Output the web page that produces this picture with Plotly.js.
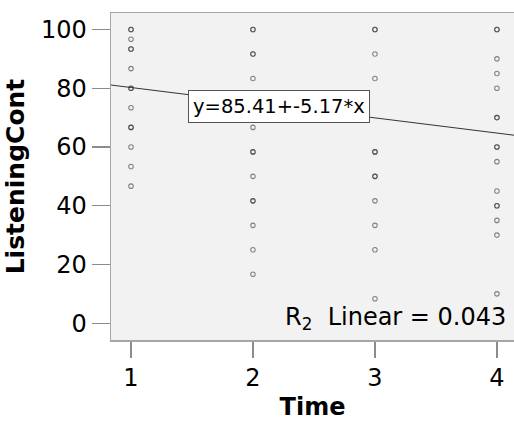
<!DOCTYPE html>
<html><head><meta charset="utf-8">
<script src="https://cdn.plot.ly/plotly-3.0.1.min.js"></script>
<style>body{margin:0;padding:0;background:#fff}</style>
</head><body><div id="chart" style="width:514px;height:421px"></div>
<script>
// Observations per Time group (duplicates = overlapping observations, darker markers)
const time1 = [100,100,96.67,93.33,93.33,86.67,80,80,73.33,66.67,66.67,60,53.33,46.67];
const time2 = [100,100,91.67,91.67,83.33,75,66.67,58.33,58.33,50,41.67,41.67,33.33,25,16.67];
const time3 = [100,100,91.67,83.33,58.33,58.33,50,50,41.67,33.33,25,8.33];
const time4 = [100,100,90,85,80,70,70,60,60,55,45,40,40,35,30,10];
const fitIntercept = 85.41;
const fitSlope = -5.17;
const rSquared = 0.043;
const xTicks = [1,2,3,4];
const yTicks = [0,20,40,60,80,100];
const xRange = [0.836, 4.14];
const yRange = [-5.7, 105.6];

const xs = [], ys = [];
[time1,time2,time3,time4].forEach((arr,i)=>{arr.forEach(v=>{xs.push(i+1); ys.push(v);});});

const font = "DejaVu Sans, Verdana, sans-serif";
const traces = [
  {x: xs, y: ys, type:'scatter', mode:'markers', hoverinfo:'none',
   marker:{symbol:'circle-open', size:4.5, color:'rgba(40,40,40,0.55)', line:{width:1.1}}},
  {x: xRange, y: xRange.map(v=>fitIntercept + fitSlope*v), type:'scatter', mode:'lines',
   line:{color:'#333', width:1}, hoverinfo:'none'}
];
const layout = {
  width:514, height:421, showlegend:false,
  margin:{l:111, r:0, t:13, b:81},
  paper_bgcolor:'#fff', plot_bgcolor:'#f2f2f2',
  font:{family:font, color:'#000'},
  xaxis:{range:xRange, tickvals:xTicks, ticktext:xTicks.map(String), showgrid:false, zeroline:false,
    showline:true, mirror:true, linecolor:'#a6a6a6', linewidth:1.5,
    ticks:'outside', ticklen:16, tickcolor:'#8c8c8c', tickwidth:1.2,
    tickfont:{size:24, family:font},
    title:{text:'<b>Time</b>', font:{size:24, family:font}, standoff:12}},
  yaxis:{range:yRange, tickvals:yTicks, ticktext:yTicks.map(String), showgrid:false, zeroline:false,
    showline:true, linecolor:'#a6a6a6', linewidth:1.5,
    ticks:'outside', ticklen:18, tickcolor:'#8c8c8c', tickwidth:1.2,
    tickfont:{size:24, family:font},
    title:{text:'<b>ListeningCont</b>', font:{size:25, family:font}, standoff:9}},
  annotations:[
    {x:2.217, y:73.8, xref:'x', yref:'y', text:'y='+fitIntercept.toFixed(2)+'+'+fitSlope.toFixed(2)+'*x',
     showarrow:false, font:{size:19.5, family:font, color:'#000'}, bgcolor:'#fff',
     bordercolor:'#555', borderwidth:1, borderpad:4},
    {x:0.985, y:1.6, xref:'paper', yref:'y', xanchor:'right', yanchor:'middle',
     text:'R<sub>2</sub>&nbsp;&nbsp;Linear = '+rSquared.toFixed(3), showarrow:false,
     font:{size:24, family:font, color:'#000'}}
  ]
};
Plotly.newPlot('chart', traces, layout, {staticPlot:true, displayModeBar:false});
</script></body></html>
